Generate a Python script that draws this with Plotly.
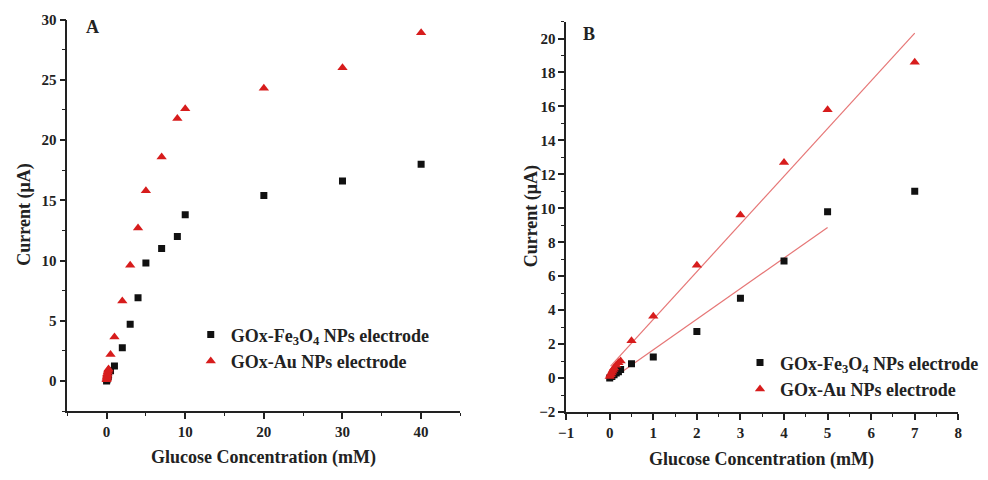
import plotly.graph_objects as go

# ---------------- data ----------------
fe_conc = [0, 0.05, 0.1, 0.15, 0.2, 0.25, 0.5, 1, 2, 3, 4, 5, 7, 9, 10, 20, 30, 40]
fe_curr = [0, 0.1, 0.2, 0.3, 0.38, 0.5, 0.85, 1.25, 2.75, 4.7, 6.9, 9.8, 11.0, 12.0, 13.8, 15.4, 16.6, 18.0]

au_conc = [0, 0.02, 0.04, 0.06, 0.08, 0.1, 0.15, 0.2, 0.25, 0.5, 1, 2, 3, 4, 5, 7, 9, 10, 20, 30, 40]
au_curr = [0.1, 0.2, 0.3, 0.4, 0.5, 0.6, 0.75, 0.9, 1.0, 2.2, 3.65, 6.65, 9.6, 12.7, 15.8, 18.6, 21.8, 22.6, 24.3, 26.0, 28.9]

# linear fits shown in panel B: slope, intercept, x start, x end
fe_fit = [1.80, -0.13, 0.25, 5.0]
au_fit = [2.81, 0.65, 0.02, 7.0]

b_max_conc = 7  # panel B shows the low-concentration range

fe_label = "GOx-Fe<sub>3</sub>O<sub>4</sub> NPs electrode"
au_label = "GOx-Au NPs electrode"

# ---------------- styles ----------------
FONT = "Liberation Serif"
BLACK = "#111111"
RED = "#d71c1c"
FITC = "#e67676"

fig = go.Figure()

def sq(x, y, xa, ya, leg, show=True):
    return go.Scatter(x=x, y=y, mode="markers", xaxis=xa, yaxis=ya, name=fe_label,
                      legend=leg, showlegend=show,
                      marker=dict(symbol="square", size=7, color=BLACK))

def tri(x, y, xa, ya, leg, show=True):
    return go.Scatter(x=x, y=y, mode="markers", xaxis=xa, yaxis=ya, name=au_label,
                      legend=leg, showlegend=show,
                      marker=dict(symbol="triangle-up", size=9, color=RED))

# Panel A
fig.add_trace(sq(fe_conc, fe_curr, "x", "y", "legend"))
fig.add_trace(tri(au_conc, au_curr, "x", "y", "legend"))

# Panel B
fbx = [c for c in fe_conc if c <= b_max_conc]
fby = [v for c, v in zip(fe_conc, fe_curr) if c <= b_max_conc]
abx = [c for c in au_conc if c <= b_max_conc]
aby = [v for c, v in zip(au_conc, au_curr) if c <= b_max_conc]

for fit in (fe_fit, au_fit):
    k, b, x0, x1 = fit
    fig.add_trace(go.Scatter(x=[x0, x1], y=[k * x0 + b, k * x1 + b], mode="lines",
                             xaxis="x2", yaxis="y2", showlegend=False,
                             line=dict(color=FITC, width=1.2), hoverinfo="skip"))
fig.add_trace(sq(fbx, fby, "x2", "y2", "legend2"))
fig.add_trace(tri(abx, aby, "x2", "y2", "legend2"))

tickfont = dict(family=FONT, size=15, color="#222", weight="bold")

def axis(domain, rng, dtick, mdtick, anchor):
    return dict(domain=domain, range=rng, dtick=dtick, tick0=0, anchor=anchor,
                showgrid=False, zeroline=False, showline=True, linecolor="#222",
                linewidth=1.5, ticks="outside", ticklen=6, tickwidth=1.5,
                tickcolor="#222", tickfont=tickfont,
                minor=dict(dtick=mdtick, tick0=0, ticks="outside", ticklen=3.5,
                           tickwidth=1.2, tickcolor="#222", showgrid=False))

legfont = dict(family=FONT, size=18, color="#222", weight="bold")

fig.update_layout(
    width=988, height=480, margin=dict(l=0, r=0, t=0, b=0),
    plot_bgcolor="white", paper_bgcolor="white",
    xaxis=axis([60 / 988, 458 / 988], [-5, 45], 10, 5, "y"),
    yaxis=axis([63 / 480, 468 / 480], [-2.5, 30], 5, 2.5, "x"),
    xaxis2=axis([565 / 988, 962 / 988], [-1, 8], 1, 0.5, "y2"),
    yaxis2=axis([62 / 480, 466 / 480], [-2, 21], 2, 1, "x2"),
    legend=dict(x=185 / 988, y=1 - 319 / 480, xanchor="left", yanchor="top",
                font=legfont, bgcolor="rgba(0,0,0,0)", tracegroupgap=0,
                itemsizing="trace"),
    legend2=dict(x=741 / 988, y=1 - 348 / 480, xanchor="left", yanchor="top",
                 font=legfont, bgcolor="rgba(0,0,0,0)", tracegroupgap=0,
                 itemsizing="trace"),
    showlegend=True,
)

titlefont = dict(family=FONT, size=18, color="#222", weight="bold")
ann = [
    dict(text="Glucose Concentration (mM)", x=259 / 988, y=1 - 465 / 480),
    dict(text="Glucose Concentration (mM)", x=763 / 988, y=1 - 467 / 480),
    dict(text="Current (μA)", x=17 / 988, y=1 - 214 / 480, textangle=-90),
    dict(text="Current (μA)", x=530 / 988, y=1 - 216 / 480, textangle=-90),
    dict(text="A", x=86 / 988, y=1 - 20 / 480),
    dict(text="B", x=588 / 988, y=1 - 27 / 480),
]
for a in ann:
    fig.add_annotation(xref="paper", yref="paper", showarrow=False,
                       xanchor="center", yanchor="middle", font=titlefont, **a)

fig.write_html("out.html")
